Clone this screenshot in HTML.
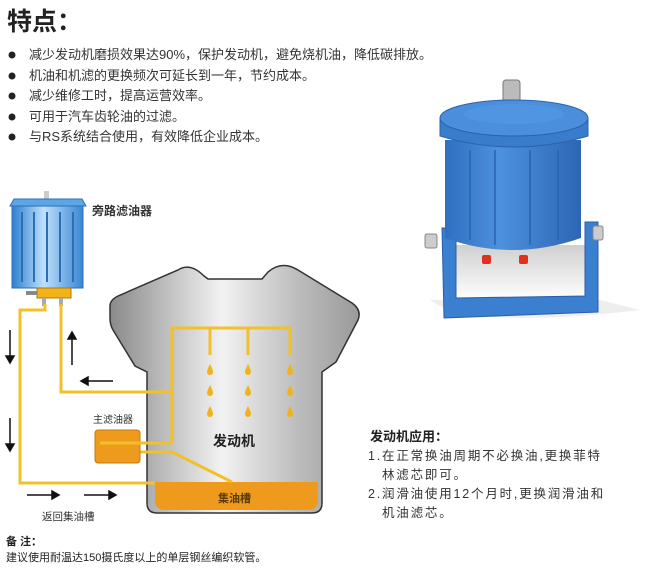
<!DOCTYPE html>
<html><head><meta charset="utf-8"><style>
body{margin:0;background:#fff;}
svg text{font-family:"Liberation Sans","Noto Sans CJK SC",sans-serif;}
</style></head><body>
<svg width="664" height="575" viewBox="0 0 664 575" xmlns="http://www.w3.org/2000/svg">
<defs>
<linearGradient id="eng" x1="0" x2="1" y1="0" y2="0">
<stop offset="0" stop-color="#8a8a8a"/><stop offset="0.45" stop-color="#f2f2f2"/><stop offset="0.75" stop-color="#bdbdbd"/><stop offset="1" stop-color="#9a9a9a"/></linearGradient>
<linearGradient id="flt" x1="0" x2="1">
<stop offset="0" stop-color="#2f7fd0"/><stop offset="0.45" stop-color="#bfe0fb"/><stop offset="1" stop-color="#3a86d3"/></linearGradient>
<linearGradient id="prod" x1="0" x2="1">
<stop offset="0" stop-color="#2f6fbf"/><stop offset="0.4" stop-color="#4d91de"/><stop offset="1" stop-color="#2c66b4"/></linearGradient>
<linearGradient id="shade" x1="0" x2="0" y1="0" y2="1">
<stop offset="0" stop-color="#d0d0d0"/><stop offset="1" stop-color="#ffffff"/></linearGradient>
</defs>
<rect width="664" height="575" fill="#fff"/>
<text x="7" y="30" font-size="25" font-weight="bold" fill="#222">特点：</text>
<g font-size="13" fill="#333">
<circle cx="12" cy="55" r="3.5" fill="#222"/><text x="29" y="59">减少发动机磨损效果达90%，保护发动机，避免烧机油，降低碳排放。</text>
<circle cx="12" cy="76" r="3.5" fill="#222"/><text x="29" y="80">机油和机滤的更换频次可延长到一年，节约成本。</text>
<circle cx="12" cy="96" r="3.5" fill="#222"/><text x="29" y="100">减少维修工时，提高运营效率。</text>
<circle cx="12" cy="117" r="3.5" fill="#222"/><text x="29" y="121">可用于汽车齿轮油的过滤。</text>
<circle cx="12" cy="137" r="3.5" fill="#222"/><text x="29" y="141">与RS系统结合使用，有效降低企业成本。</text>
</g>
<!-- bypass filter -->
<rect x="44" y="191" width="5" height="8" fill="#ccc"/>
<path d="M10 206 L14 199 L82 199 L86 206 Z" fill="#5aa6e6" stroke="#2d6fb5"/>
<rect x="12" y="206" width="71" height="82" fill="url(#flt)" stroke="#2d6fb5"/>
<g stroke="#2d6fb5" stroke-width="2" fill="none">
<line x1="22" y1="212" x2="22" y2="282"/><line x1="34" y1="212" x2="34" y2="282"/><line x1="47" y1="212" x2="47" y2="282"/><line x1="60" y1="212" x2="60" y2="282"/><line x1="73" y1="212" x2="73" y2="282"/></g>
<rect x="37" y="288" width="34" height="10" fill="#f2b21a" stroke="#b07a00"/>
<rect x="26" y="291" width="11" height="4" fill="#888"/>
<rect x="42" y="298" width="4" height="8" fill="#aaa"/><rect x="59" y="298" width="4" height="8" fill="#aaa"/>
<text x="92" y="215" font-size="12" font-weight="bold" fill="#333">旁路滤油器</text>
<!-- engine -->
<path d="M110 306 Q110 300 118 296 L178 270 Q190 262 204 276 L208 279 L262 279 L268 272 Q282 260 298 270 L352 303 Q362 310 358 320 L336 362 L322 372 L322 503 Q322 513 312 513 L157 513 Q147 513 147 503 L147 372 L135 366 L113 330 Q110 325 110 318 Z" fill="url(#eng)" stroke="#333" stroke-width="1.5"/>
<path d="M155 482 L318 482 L318 500 Q318 510 308 510 L165 510 Q155 510 155 500 Z" fill="#ee9a1c"/>
<text x="218" y="502" font-size="11" font-weight="bold" fill="#5a3a00">集油槽</text>
<text x="213" y="446" font-size="14" font-weight="bold" fill="#222">发动机</text>
<!-- pipes -->
<g stroke="#f2c02a" stroke-width="3" fill="none">
<polyline points="45,304 45,310 20,310 20,483 155,483"/>
<polyline points="61,304 61,392 172,392"/>
<polyline points="172,443 172,328 290,328 290,355"/>
<line x1="210" y1="328" x2="210" y2="355"/><line x1="248" y1="328" x2="248" y2="355"/>
<polyline points="140,452 172,452 232,482"/>
</g>
<rect x="95" y="430" width="45" height="33" rx="3" fill="#ee9a1c" stroke="#c57a10"/>
<line x1="100" y1="443" x2="172" y2="443" stroke="#f2c02a" stroke-width="3"/>
<text x="93" y="423" font-size="10" fill="#333">主滤油器</text>
<g fill="#f2b21a">
<path id="d" d="M0 -6 Q3 0 3 2 A3 3 0 0 1 -3 2 Q-3 0 0 -6Z" transform="translate(210,370)"/>
<use href="#d" x="0" y="21"/><use href="#d" x="0" y="42"/>
<use href="#d" x="38" y="0"/><use href="#d" x="38" y="21"/><use href="#d" x="38" y="42"/>
<use href="#d" x="80" y="0"/><use href="#d" x="80" y="21"/><use href="#d" x="80" y="42"/>
</g>
<!-- arrows -->
<g stroke="#111" stroke-width="1.5" fill="#111">
<line x1="10" y1="330" x2="10" y2="358"/><path d="M6 356 L14 356 L10 363Z"/>
<line x1="10" y1="418" x2="10" y2="446"/><path d="M6 444 L14 444 L10 451Z"/>
<line x1="72" y1="365" x2="72" y2="337"/><path d="M68 339 L76 339 L72 332Z"/>
<line x1="113" y1="381" x2="86" y2="381"/><path d="M88 377 L88 385 L81 381Z"/>
<line x1="27" y1="495" x2="54" y2="495"/><path d="M52 491 L52 499 L59 495Z"/>
<line x1="84" y1="495" x2="111" y2="495"/><path d="M109 491 L109 499 L116 495Z"/>
</g>
<text x="42" y="520" font-size="10.5" fill="#333">返回集油槽</text>
<text x="6" y="545" font-size="11" font-weight="bold" fill="#222">备 注：</text>
<text x="6" y="561" font-size="11" fill="#222">建议使用耐温达150摄氏度以上的单层钢丝编织软管。</text>
<!-- product -->
<path d="M430 300 Q470 330 640 310 L600 300Z" fill="#eee"/>
<rect x="455" y="245" width="131" height="55" fill="url(#shade)"/>
<path d="M442 228 L456 228 L456 298 L585 296 L585 222 L598 222 L598 312 L444 318 Z" fill="#3a7fd0" stroke="#2a5ea8"/>
<rect x="425" y="234" width="12" height="14" rx="2" fill="#ccc" stroke="#888"/>
<rect x="593" y="226" width="10" height="14" rx="2" fill="#ccc" stroke="#888"/>
<rect x="503" y="80" width="17" height="22" rx="3" fill="#bbb" stroke="#777"/>
<path d="M445 140 L581 140 L581 238 Q512 262 445 238 Z" fill="url(#prod)"/>
<g stroke="#2a63ac" stroke-width="1.5"><line x1="470" y1="150" x2="470" y2="240"/><line x1="495" y1="150" x2="495" y2="245"/><line x1="530" y1="150" x2="530" y2="245"/><line x1="558" y1="150" x2="558" y2="240"/></g>
<path d="M440 118 L440 136 Q514 158 588 136 L588 118 Z" fill="#3a7ccc" stroke="#2a63ac"/>
<ellipse cx="514" cy="118" rx="74" ry="18" fill="#4a8edc" stroke="#2a63ac"/>
<ellipse cx="514" cy="114" rx="50" ry="10" fill="#4f95e2"/>
<rect x="482" y="255" width="9" height="9" rx="2" fill="#e03020"/><rect x="519" y="255" width="9" height="9" rx="2" fill="#e03020"/>
<!-- application text -->
<text x="370" y="441" font-size="13" font-weight="bold" fill="#222">发动机应用：</text>
<g font-size="12.5" fill="#333" letter-spacing="1.8">
<text x="368" y="460">1.在正常换油周期不必换油,更换菲特</text>
<text x="382" y="479">林滤芯即可。</text>
<text x="368" y="498">2.润滑油使用12个月时,更换润滑油和</text>
<text x="382" y="517">机油滤芯。</text>
</g>
</svg>
</body></html>
